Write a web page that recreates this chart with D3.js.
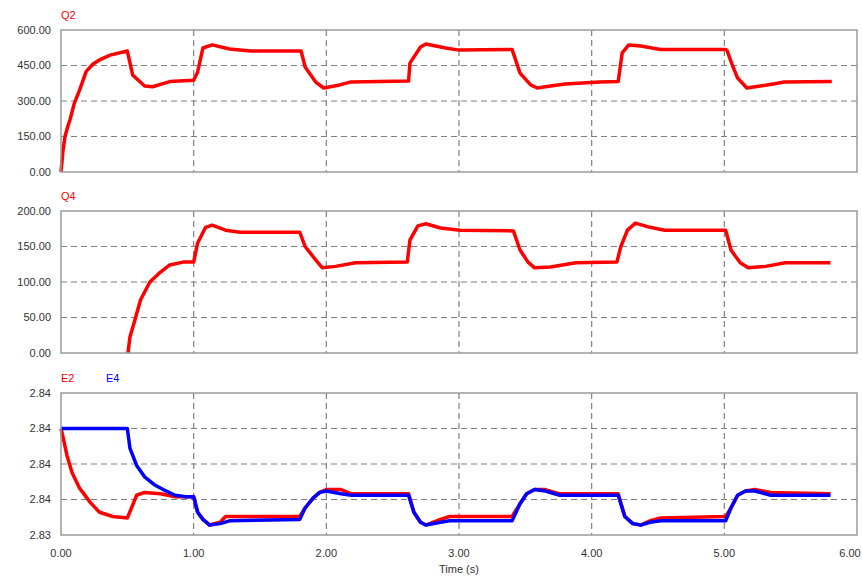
<!DOCTYPE html>
<html>
<head>
<meta charset="utf-8">
<script src="https://cdn.jsdelivr.net/npm/d3@7"></script>
<style>
  body { margin: 0; background: #fff; }
  svg { display: block; font-family: "Liberation Sans", Arial, sans-serif; }
</style>
</head>
<body>
<div id="chart"></div>
<script>
// time axis
const timeTicks = [0, 1, 2, 3, 4, 5, 6];

// Q2 (top panel) : [time, value]
const q2 = [[0, 0], [0.015, 90], [0.03, 150], [0.05, 190], [0.07, 225], [0.1, 290], [0.14, 346], [0.19, 425], [0.24, 455], [0.295, 475], [0.37, 494],
    [0.5, 511], [0.54, 410], [0.63, 363], [0.69, 360], [0.82, 382], [1.0, 388],
    [1.03, 423], [1.07, 524], [1.14, 537], [1.27, 520], [1.43, 511], [1.81, 511],
    [1.84, 444], [1.92, 380], [1.98, 355], [2.1, 368], [2.18, 380], [2.62, 384],
    [2.63, 460], [2.71, 528], [2.75, 541], [2.9, 524], [3.0, 515], [3.4, 518],
    [3.46, 418], [3.54, 368], [3.59, 355], [3.69, 363], [3.8, 372], [4.06, 380], [4.2, 382],
    [4.23, 503], [4.28, 537], [4.37, 532], [4.52, 518], [5.01, 518],
    [5.02, 514], [5.06, 452], [5.1, 397], [5.17, 355], [5.27, 363], [5.37, 372], [5.45, 380], [5.81, 382]];
const q2Ticks = [0, 150, 300, 450, 600];

// Q4 (middle panel)
const q4 = [[0.505, 0], [0.52, 23], [0.55, 42], [0.6, 75], [0.67, 100], [0.75, 114], [0.82, 124], [0.92, 128], [1.0, 128],
    [1.03, 155], [1.09, 177], [1.14, 180], [1.24, 173], [1.35, 170], [1.8, 170],
    [1.84, 150], [1.92, 131], [1.97, 120], [2.07, 122], [2.22, 127], [2.61, 128],
    [2.63, 159], [2.69, 179], [2.75, 182], [2.86, 176], [3.01, 173], [3.41, 172],
    [3.46, 145], [3.52, 128], [3.57, 120], [3.69, 121], [3.88, 127], [4.19, 128],
    [4.22, 150], [4.27, 173], [4.33, 183], [4.44, 177], [4.55, 173], [5.01, 173],
    [5.05, 145], [5.12, 127], [5.18, 120], [5.31, 122], [5.46, 127], [5.8, 127]];
const q4Ticks = [0, 50, 100, 150, 200];

// E2 / E4 (bottom panel)
const e2 = [[0, 2.8415], [0.015, 2.8409], [0.045, 2.8396], [0.083, 2.8384], [0.14, 2.8373], [0.22, 2.8363], [0.29, 2.8356],
    [0.39, 2.8353], [0.5, 2.8352], [0.54, 2.8361], [0.57, 2.8368], [0.63, 2.8370], [0.75, 2.8369], [0.86, 2.8367], [1.0, 2.8367],
    [1.03, 2.8356], [1.07, 2.8351], [1.12, 2.8347], [1.2, 2.8349], [1.24, 2.8353], [1.8, 2.8353],
    [1.84, 2.8359], [1.9, 2.8366], [1.95, 2.8370], [2.0, 2.8372], [2.11, 2.8372], [2.19, 2.8369], [2.62, 2.8369],
    [2.66, 2.8356], [2.71, 2.8349], [2.75, 2.8347], [2.86, 2.8351], [2.93, 2.8353], [3.4, 2.8353],
    [3.46, 2.8362], [3.51, 2.8369], [3.57, 2.8372], [3.65, 2.8372], [3.76, 2.8369], [4.2, 2.8369],
    [4.25, 2.8353], [4.31, 2.8348], [4.37, 2.8347], [4.44, 2.8350], [4.52, 2.8352], [5.01, 2.8353],
    [5.05, 2.8359], [5.1, 2.8368], [5.16, 2.8371], [5.23, 2.8372], [5.35, 2.8370], [5.8, 2.8369]];
const e4 = [[0, 2.8415], [0.5, 2.8415], [0.52, 2.8401], [0.57, 2.8389], [0.63, 2.8381], [0.71, 2.8375], [0.77, 2.8372],
    [0.86, 2.8368], [0.94, 2.8367], [1.0, 2.8367],
    [1.03, 2.8356], [1.07, 2.8351], [1.12, 2.8347], [1.2, 2.8348], [1.27, 2.8350], [1.8, 2.8351],
    [1.84, 2.8359], [1.9, 2.8366], [1.95, 2.8370], [2.0, 2.8371], [2.11, 2.8369], [2.19, 2.8368], [2.62, 2.8368],
    [2.66, 2.8356], [2.71, 2.8349], [2.75, 2.8347], [2.86, 2.8349], [2.93, 2.8350], [3.4, 2.8350],
    [3.46, 2.8362], [3.51, 2.8369], [3.57, 2.8372], [3.65, 2.8371], [3.76, 2.8368], [4.2, 2.8368],
    [4.25, 2.8353], [4.31, 2.8348], [4.37, 2.8347], [4.44, 2.8349], [4.52, 2.8350], [5.01, 2.8350],
    [5.05, 2.8359], [5.1, 2.8368], [5.16, 2.8371], [5.23, 2.8371], [5.35, 2.8368], [5.8, 2.8368]];
const eTicks = [2.834, 2.8365, 2.839, 2.8415, 2.844];

const width = 862, height = 581;
const left = 61, right = 857;

const svg = d3.select("#chart").append("svg")
    .attr("width", width)
    .attr("height", height);

const x = d3.scaleLinear().domain([0, 6]).range([left, right]);

const panels = [
    { top: 30, bottom: 172, ticks: q2Ticks, fmt: d3.format(".2f"),
      series: [{ name: "Q2", data: q2, color: "#ff0000" }] },
    { top: 211, bottom: 353, ticks: q4Ticks, fmt: d3.format(".2f"),
      series: [{ name: "Q4", data: q4, color: "#ff0000" }] },
    { top: 393, bottom: 535, ticks: eTicks, fmt: d3.format(".2f"),
      series: [{ name: "E2", data: e2, color: "#ff0000" }, { name: "E4", data: e4, color: "#0000ff" }] },
];

panels.forEach((p) => {
    const y = d3.scaleLinear()
        .domain([p.ticks[0], p.ticks[p.ticks.length - 1]])
        .range([p.bottom, p.top]);
    const g = svg.append("g");

    // horizontal grid (interior ticks)
    g.selectAll(".hgrid").data(p.ticks.slice(1, -1)).join("line")
        .attr("x1", left).attr("x2", right)
        .attr("y1", (d) => y(d)).attr("y2", (d) => y(d))
        .attr("stroke", "#808080").attr("stroke-width", 1.2)
        .attr("stroke-dasharray", "6,4");

    // vertical grid
    g.selectAll(".vgrid").data(timeTicks.slice(1, -1)).join("line")
        .attr("x1", (d) => x(d)).attr("x2", (d) => x(d))
        .attr("y1", p.top).attr("y2", p.bottom)
        .attr("stroke", "#808080").attr("stroke-width", 1.2)
        .attr("stroke-dasharray", "6,4");

    // y tick labels
    g.selectAll(".ylab").data(p.ticks).join("text")
        .attr("x", left - 10)
        .attr("y", (d) => y(d))
        .attr("dy", "0.35em")
        .attr("text-anchor", "end")
        .attr("font-size", 11)
        .attr("fill", "#333")
        .text((d) => p.fmt(d));

    // series
    const line = d3.line().x((d) => x(d[0])).y((d) => y(d[1]));
    p.series.forEach((s) => {
        g.append("path")
            .datum(s.data)
            .attr("d", line)
            .attr("fill", "none")
            .attr("stroke", s.color)
            .attr("stroke-width", 3.5)
            .attr("stroke-linejoin", "round");
    });

    // frame
    g.append("rect")
        .attr("x", left).attr("y", p.top)
        .attr("width", right - left).attr("height", p.bottom - p.top)
        .attr("fill", "none")
        .attr("stroke", "#9a9a9a").attr("stroke-width", 1.5);

    // titles
    p.series.forEach((s, i) => {
        g.append("text")
            .attr("x", left + i * 45)
            .attr("y", p.top - 11)
            .attr("font-size", 11)
            .attr("fill", s.color)
            .text(s.name);
    });
});

// x tick labels
svg.selectAll(".xlab").data(timeTicks).join("text")
    .attr("x", (d) => x(d) - (d === 6 ? 7 : 0))
    .attr("y", 557)
    .attr("text-anchor", "middle")
    .attr("font-size", 11)
    .attr("fill", "#333")
    .text((d) => d3.format(".2f")(d));

svg.append("text")
    .attr("x", x(3))
    .attr("y", 573)
    .attr("text-anchor", "middle")
    .attr("font-size", 11)
    .attr("fill", "#333")
    .text("Time (s)");
</script>
</body>
</html>
